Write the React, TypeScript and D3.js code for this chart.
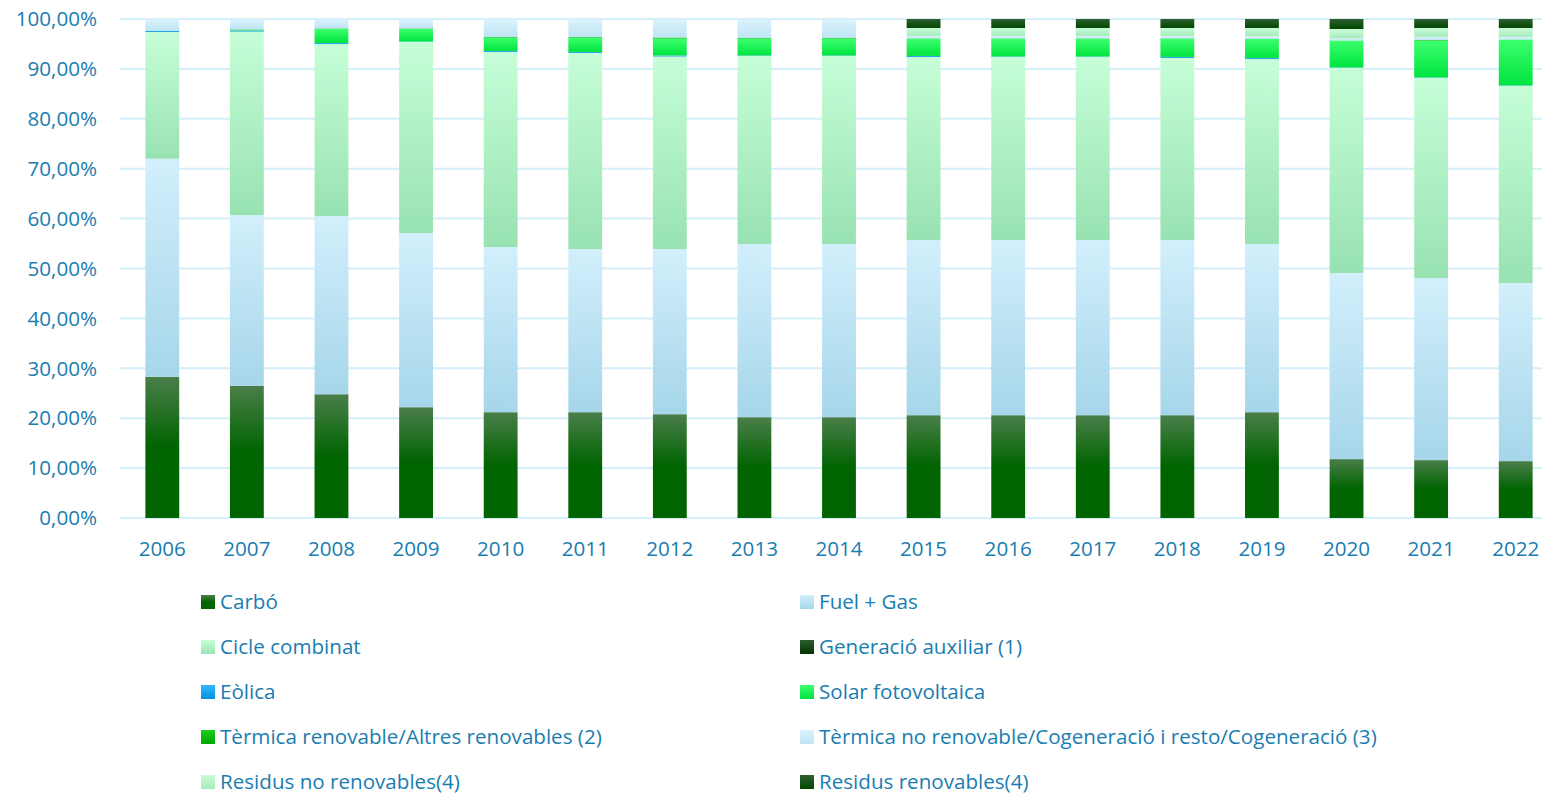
import * as d3 from 'd3';

// Share of generation by technology (%)
const years = ['2006', '2007', '2008', '2009', '2010', '2011', '2012', '2013', '2014', '2015', '2016', '2017', '2018', '2019', '2020', '2021', '2022'];

const carbo = [28.3, 26.5, 24.8, 22.2, 21.2, 21.2, 20.8, 20.2, 20.2, 20.6, 20.6, 20.6, 20.6, 21.2, 11.8, 11.6, 11.4];
const fuelGas = [43.7, 34.2, 35.7, 34.9, 33.1, 32.7, 33.1, 34.7, 34.7, 35.1, 35.1, 35.1, 35.1, 33.7, 37.3, 36.5, 35.7];
const cicleCombinat = [25.4, 36.8, 34.5, 38.3, 39.1, 39.3, 38.6, 37.7, 37.7, 36.7, 36.7, 36.7, 36.5, 37.1, 41.1, 40.1, 39.5];
const generacioAuxiliar = [0, 0, 0, 0, 0, 0, 0, 0, 0, 0, 0, 0, 0, 0, 0, 0, 0];
const eolica = [0.2, 0.2, 0.2, 0.1, 0.2, 0.2, 0.2, 0.1, 0.1, 0.2, 0.1, 0.1, 0.2, 0.2, 0.1, 0.1, 0.1];
const solar = [0, 0.1, 2.8, 2.5, 2.7, 2.9, 3.4, 3.4, 3.4, 3.4, 3.5, 3.5, 3.6, 3.8, 5.4, 7.4, 9.2];
const termicaRenovable = [0, 0.1, 0.1, 0.1, 0.1, 0.1, 0.2, 0.1, 0.1, 0.1, 0.1, 0.1, 0.1, 0, 0, 0.1, 0];
const termicaNoRenovable = [2.4, 2.1, 1.9, 1.9, 3.6, 3.6, 3.7, 3.8, 3.8, 0.5, 0.5, 0.5, 0.5, 0.6, 0.4, 0.6, 0.5];
const residusNoRenovables = [0, 0, 0, 0, 0, 0, 0, 0, 0, 1.6, 1.6, 1.6, 1.6, 1.6, 1.9, 1.8, 1.8];
const residusRenovables = [0, 0, 0, 0, 0, 0, 0, 0, 0, 1.8, 1.8, 1.8, 1.8, 1.8, 2.0, 1.8, 1.8];

const seriesNames = [
  'Carbó',
  'Fuel + Gas',
  'Cicle combinat',
  'Generació auxiliar (1)',
  'Eòlica',
  'Solar fotovoltaica',
  'Tèrmica renovable/Altres renovables (2)',
  'Tèrmica no renovable/Cogeneració i resto/Cogeneració (3)',
  'Residus no renovables(4)',
  'Residus renovables(4)',
];
const seriesValues = [carbo, fuelGas, cicleCombinat, generacioAuxiliar, eolica, solar, termicaRenovable, termicaNoRenovable, residusNoRenovables, residusRenovables];

// top / bottom colour of each series gradient
const seriesColors: [string, string][] = [
  ['#4a7e4a', '#006400'],
  ['#d2effc', '#a6d6ea'],
  ['#c6fed7', '#98e2b2'],
  ['#2e5e2e', '#003300'],
  ['#38b8ff', '#0092e0'],
  ['#3cff6e', '#00e43e'],
  ['#20cc20', '#00a800'],
  ['#dcf3fd', '#bde4f5'],
  ['#cafcd8', '#a6eabd'],
  ['#2f5f2f', '#004800'],
];

const yTicks = [0, 0.1, 0.2, 0.3, 0.4, 0.5, 0.6, 0.7, 0.8, 0.9, 1];

const W = 1542;
const H = 795;
const textColor = '#1a7db0';
const fontFamily = '"Open Sans", Lato, sans-serif';
const fontSize = 20.6;

export default function App() {
  const x = d3.scaleBand<string>().domain(years).range([120, 1558]).paddingInner(0.6).paddingOuter(0.3);
  const y = d3.scaleLinear().domain([0, 1]).range([518, 19]);

  const locale = d3.formatLocale({ decimal: ',', thousands: '.', grouping: [3], currency: ['', '€'] });
  const fmt = locale.format('.2%');

  const table = years.map((yr, i) => {
    const row: Record<string, number | string> = { year: yr };
    seriesNames.forEach((n, s) => (row[n] = seriesValues[s][i] / 100));
    return row;
  });
  const stacked = d3.stack<Record<string, number | string>>().keys(seriesNames)(table as any);

  const legendRows = [602, 647, 692, 737, 782];
  const legendCols = [201, 800];

  return (
    <svg width={W} height={H} style={{ position: 'absolute', left: 0, top: 0, background: '#fff' }} fontFamily={fontFamily}>
      <defs>
        {seriesColors.map((c, i) => (
          <linearGradient key={i} id={`g${i}`} x1="0" y1="0" x2="0" y2="1">
            <stop offset="0" stopColor={c[0]} />
            <stop offset={i === 0 ? '0.5' : '1'} stopColor={c[1]} />
            <stop offset="1" stopColor={c[1]} />
          </linearGradient>
        ))}
      </defs>

      {/* gridlines */}
      <g>
        {yTicks.map((t) => (
          <line key={t} x1={120} x2={W} y1={y(t)} y2={y(t)} stroke="#d4eefa" strokeWidth={2} />
        ))}
      </g>

      {/* bars */}
      <g>
        {stacked.map((layer, s) => (
          <g key={s} fill={`url(#g${s})`}>
            {layer.map((d, i) => {
              const h = y(d[0]) - y(d[1]);
              if (h <= 0) return null;
              return <rect key={i} x={x(years[i])} y={y(d[1])} width={x.bandwidth()} height={h} />;
            })}
          </g>
        ))}
      </g>

      {/* y axis labels */}
      <g fill={textColor} fontSize={fontSize} textAnchor="end">
        {yTicks.map((t) => (
          <text key={t} x={97} y={y(t)} dy="0.35em">{fmt(t)}</text>
        ))}
      </g>

      {/* x axis labels */}
      <g fill={textColor} fontSize={fontSize} textAnchor="middle">
        {years.map((yr) => (
          <text key={yr} x={(x(yr) ?? 0) + x.bandwidth() / 2} y={549} dy="0.35em">{yr}</text>
        ))}
      </g>

      {/* legend */}
      <g fill={textColor} fontSize={fontSize}>
        {seriesNames.map((n, i) => {
          const lx = legendCols[i % 2];
          const ly = legendRows[Math.floor(i / 2)];
          return (
            <g key={n}>
              <rect x={lx} y={ly - 7} width={14} height={14} fill={`url(#g${i})`} />
              <text x={lx + 19} y={ly} dy="0.35em">{n}</text>
            </g>
          );
        })}
      </g>
    </svg>
  );
}
